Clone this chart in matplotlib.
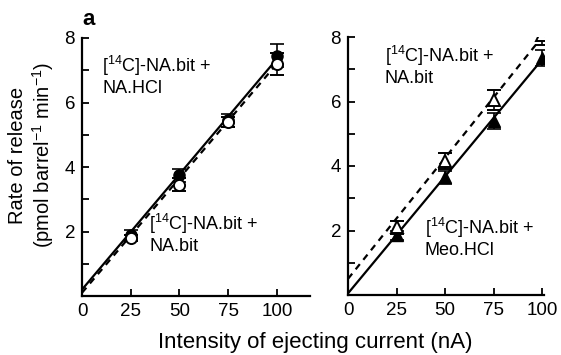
import matplotlib
matplotlib.use("Agg")
import matplotlib.pyplot as plt
import numpy as np

plt.rcParams['font.family'] = ['Liberation Sans', 'DejaVu Sans']
plt.rcParams['mathtext.fontset'] = 'custom'
plt.rcParams['mathtext.rm'] = 'Liberation Sans'
plt.rcParams['mathtext.it'] = 'Liberation Sans'
plt.rcParams['mathtext.bf'] = 'Liberation Sans:bold'

current = [25, 50, 75, 100]

# left panel
hcl_rate = [1.9, 3.75, 5.45, 7.45]
hcl_err = [0.15, 0.2, 0.2, 0.35]
bit_rate = [1.8, 3.45, 5.4, 7.2]
bit_err = [0.1, 0.2, 0.15, 0.35]
hcl_fit = [0.2, 7.35]
bit_fit = [0.1, 7.2]

# right panel
bit2_rate = [2.1, 4.15, 6.05, 8.05]
bit2_err = [0.2, 0.25, 0.3, 0.3]
meo_rate = [1.85, 3.65, 5.4, 7.35]
meo_err = [0.15, 0.2, 0.25, 0.25]
bit2_fit = [0.5, 8.0]
meo_fit = [0.05, 7.3]

fit_x = [0, 100]

fig = plt.figure(figsize=(5.61, 3.55), dpi=100)
ax1 = fig.add_axes([82 / 561, 59 / 355, 228 / 561, 258 / 355])
ax2 = fig.add_axes([348 / 561, 60 / 355, 196 / 561, 258 / 355])


def style_axes(ax, xmax):
    ax.set_xlim(0, xmax)
    ax.set_ylim(0, 8)
    ax.spines['top'].set_visible(False)
    ax.spines['right'].set_visible(False)
    ax.spines['left'].set_linewidth(1.6)
    ax.spines['bottom'].set_linewidth(1.6)
    ax.set_xticks([0, 25, 50, 75, 100])
    ax.set_yticks([2, 4, 6, 8])
    ax.set_yticks([1, 3, 5, 7], minor=True)
    ax.tick_params(direction='in', length=5, width=1.3, labelsize=13.5, pad=5)
    ax.tick_params(which='minor', direction='in', length=5, width=1.3)


txt = dict(fontsize=13, linespacing=1.15, va='top')
lab = '[$^{14}$C]-NA.bit +\n'

# left
ax1.plot(fit_x, hcl_fit, color='black', lw=1.6)
ax1.plot(fit_x, bit_fit, color='black', lw=1.6, ls=(0, (3, 2.5)))
ax1.errorbar(current, hcl_rate, yerr=hcl_err, fmt='o', color='black', ms=8,
             capsize=5, elinewidth=1.2, capthick=1.2)
ax1.errorbar(current, bit_rate, yerr=bit_err, fmt='o', color='black', mfc='white',
             ms=8, mew=1.4, capsize=5, elinewidth=1.2, capthick=1.2)
style_axes(ax1, 117)
ax1.text(10.5, 7.5, lab + 'NA.HCl', **txt)
ax1.text(34.5, 2.6, lab + 'NA.bit', **txt)
ax1.text(0.3, 8.4, 'a', fontsize=16, fontweight='bold')

fig.text(32 / 561, 1 - 155 / 355, 'Rate of release\n(pmol barrel$^{-1}$ min$^{-1}$)',
         fontsize=14.5, rotation=90, linespacing=1.15, ha='center', va='center')

# right
ax2.plot(fit_x, meo_fit, color='black', lw=1.6)
ax2.plot(fit_x, bit2_fit, color='black', lw=1.6, ls=(0, (3, 2.5)))
ax2.errorbar(current, meo_rate, yerr=meo_err, fmt='^', color='black', ms=9,
             capsize=5, elinewidth=1.2, capthick=1.2)
ax2.errorbar(current, bit2_rate, yerr=bit2_err, fmt='^', color='black', mfc='white',
             ms=9, mew=1.4, capsize=5, elinewidth=1.2, capthick=1.2)
style_axes(ax2, 101)
ax2.text(19, 7.8, lab + 'NA.bit', **txt)
ax2.text(39.5, 2.45, lab + 'Meo.HCl', **txt)

fig.text(315 / 561, 1 - 348 / 355, 'Intensity of ejecting current (nA)', fontsize=16,
         ha='center', va='baseline')

fig.savefig('out.png', dpi=100)
